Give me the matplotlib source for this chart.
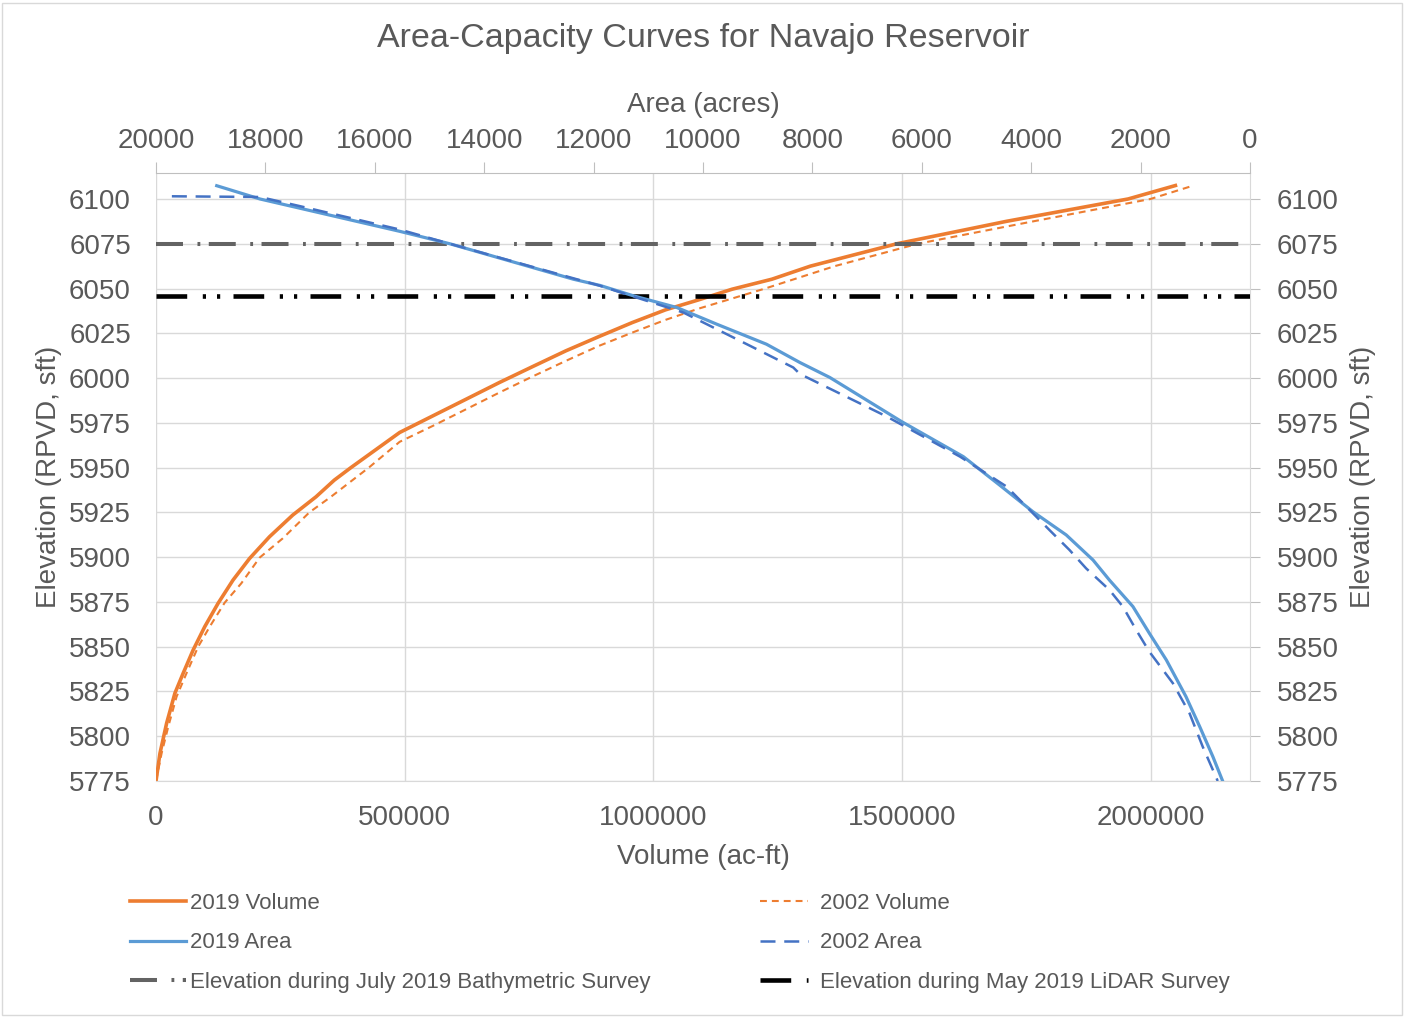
import matplotlib
matplotlib.use("Agg")
import matplotlib.pyplot as plt
from matplotlib.patches import Rectangle

plt.rcParams['font.family'] = ['Liberation Sans', 'DejaVu Sans']

# Volume curves (elevation in ft, volume in ac-ft)
vol_2019_elev = [5775, 5790.5, 5807.3, 5824.0, 5835.2, 5848.2, 5861.2, 5874.2, 5887.2,
                 5899.3, 5911.4, 5923.5, 5933.7, 5943.0, 5950, 5969.6, 5978.9, 5988.2,
                 5997.5, 6006.4, 6015.2, 6023.2, 6031.0, 6038.1, 6043.7, 6049.6, 6055.2,
                 6062.5, 6075, 6087.5, 6100, 6107.5]
vol_2019 = [0, 8000, 21400, 38000, 54700, 74800, 98100, 124800, 154900,
            188300, 228300, 275000, 321800, 358500, 392000, 490000, 556800, 623700,
            690500, 757400, 824200, 891000, 957900, 1024700, 1091600, 1158400, 1238600,
            1316000, 1490000, 1710000, 1955000, 2050000]
vol_2002_elev = [5775, 5790.5, 5805.4, 5822.1, 5835.2, 5850, 5861.2, 5874.6, 5885.4,
                 5899.7, 5910.5, 5925, 5933.7, 5943, 5950, 5964.4, 5973.3, 5982.6,
                 5991.9, 6000.9, 6009.6, 6018, 6025.4, 6032.5, 6038.8, 6044.4, 6050,
                 6062.5, 6075, 6087.5, 6100, 6107.3]
vol_2002 = [0, 11300, 24700, 41400, 61400, 84800, 108100, 138200, 171600,
            208300, 255000, 308400, 351800, 395200, 428000, 490000, 556800, 623700,
            690500, 757400, 824200, 891000, 957900, 1024700, 1091600, 1158400, 1225000,
            1365000, 1532000, 1764000, 2000000, 2084000]

# Area curves (elevation in ft, area in acres)
area_2019_elev = [6107.4, 6100, 6081.9, 6075, 6055.2, 6051.7, 6045.9, 6039.4, 6030.1,
                  6018.9, 6008.7, 6000.3, 5975.7, 5956.1, 5940.3, 5925.4, 5912.4, 5898.4,
                  5887.2, 5872.4, 5857.5, 5842.6, 5822.1, 5805.4, 5788.7, 5775]
area_2019 = [18890, 18100, 15540, 14630, 12370, 11880, 11270, 10480, 9750,
             8840, 8230, 7680, 6370, 5240, 4580, 3970, 3360, 2870,
             2570, 2140, 1840, 1530, 1170, 920, 680, 500]
area_2002_elev = [6101.5, 6101.1, 6096.0, 6082.9, 6075, 6051.7, 6045.5, 6036.6, 6027.3,
                  6018, 6005.9, 6002.3, 5978.5, 5956.1, 5939.4, 5915.1, 5904, 5893.7,
                  5881.7, 5872.4, 5859.3, 5847.2, 5829.6, 5812.8, 5794.2, 5775]
area_2002 = [19710, 18100, 17370, 15540, 14630, 11900, 11270, 10360, 9750,
             9140, 8350, 8230, 6640, 5300, 4450, 3665, 3300, 2995,
             2570, 2325, 2080, 1840, 1410, 1105, 865, 590]

# Survey water surface elevations
bathy_elev = 6075
lidar_elev = 6046

vol_ticks = [0, 500000, 1000000, 1500000, 2000000]
area_ticks = list(range(20000, -1, -2000))
elev_ticks = list(range(5775, 6101, 25))

txt = '#595959'
grid_c = '#D9D9D9'
axis_c = '#BFBFBF'
orange = '#ED7D31'
blue = '#5B9BD5'
blue_dk = '#4472C4'

W, H = 1404, 1017
fig = plt.figure(figsize=(W / 100, H / 100), dpi=100)
fig.patches.append(Rectangle((2 / W, 2 / H), 1 - 4 / W, 1 - 5 / H, transform=fig.transFigure,
                             fill=False, edgecolor=grid_c, lw=1))

ax = fig.add_axes([156 / W, 1 - 781 / H, (1250 - 156) / W, (781 - 173) / H])
ax.set_xlim(0, 2200000)
ax.set_ylim(5775, 6114.5)
ax.set_xticks(vol_ticks)
ax.set_yticks(elev_ticks)
ax.ticklabel_format(axis='x', style='plain', useOffset=False)
ax.grid(True, color=grid_c, lw=1)
ax.set_axisbelow(True)
for s in ['top', 'left', 'right']:
    ax.spines[s].set_visible(False)
ax.spines['bottom'].set_color(grid_c)
ax.tick_params(axis='x', length=0, pad=17, labelsize=20, labelcolor=txt)
ax.tick_params(axis='y', length=0, pad=18, labelsize=20, labelcolor=txt)
ax.set_xlabel('Volume (ac-ft)', fontsize=20, color=txt, labelpad=10)
ax.set_ylabel('Elevation (RPVD, sft)', fontsize=20, color=txt, labelpad=5)

l_v19, = ax.plot(vol_2019, vol_2019_elev, color=orange, lw=2.6, label='2019 Volume')
l_v02, = ax.plot(vol_2002, vol_2002_elev, color=orange, lw=1.5, dashes=(3.3, 2.4),
                 label='2002 Volume')
l_bat = ax.axhline(bathy_elev, color='#636363', lw=2.9, dashes=(6.7, 3.6, 0.7, 2.1),
                   label='Elevation during July 2019 Bathymetric Survey')
l_lid = ax.axhline(lidar_elev, color='black', lw=3.3,
                   dashes=(6.7, 3.4, 0.7, 2.4, 0.7, 2.9),
                   label='Elevation during May 2019 LiDAR Survey')

# right-hand elevation axis
sec = ax.secondary_yaxis('right')
sec.set_yticks(elev_ticks)
sec.spines['right'].set_color(grid_c)
sec.tick_params(length=7, color=axis_c, pad=12, labelsize=20, labelcolor=txt)
sec.set_ylabel('Elevation (RPVD, sft)', fontsize=20, color=txt, labelpad=8)

# top area axis (reversed)
ax2 = ax.twiny()
ax2.set_xlim(20000, 0)
ax2.set_xticks(area_ticks)
for s in ['bottom', 'left', 'right']:
    ax2.spines[s].set_visible(False)
ax2.spines['top'].set_color(axis_c)
ax2.tick_params(axis='x', length=8, color=axis_c, pad=6, labelsize=20, labelcolor=txt)
ax2.set_xlabel('Area (acres)', fontsize=20, color=txt, labelpad=11)

l_a19, = ax2.plot(area_2019, area_2019_elev, color=blue, lw=2.3, label='2019 Area')
l_a02, = ax2.plot(area_2002, area_2002_elev, color=blue_dk, lw=1.8, dashes=(6, 3.5),
                  label='2002 Area')

fig.text(703 / W, 1 - 38 / H, 'Area-Capacity Curves for Navajo Reservoir',
         ha='center', va='center', fontsize=24.5, color=txt)

leg_kw = dict(frameon=False, loc='center left', borderpad=0, borderaxespad=0,
              fontsize=16, labelspacing=0.84, labelcolor=txt)
fig.legend(handles=[l_v19, l_a19, l_bat], bbox_to_anchor=(130 / W, 1 - 943 / H),
           handlelength=2.5, handletextpad=0.22, **leg_kw)
fig.legend(handles=[l_v02, l_a02, l_lid], bbox_to_anchor=(760 / W, 1 - 943 / H),
           handlelength=2.15, handletextpad=0.55, **leg_kw)

fig.savefig('out.png', dpi=100)
